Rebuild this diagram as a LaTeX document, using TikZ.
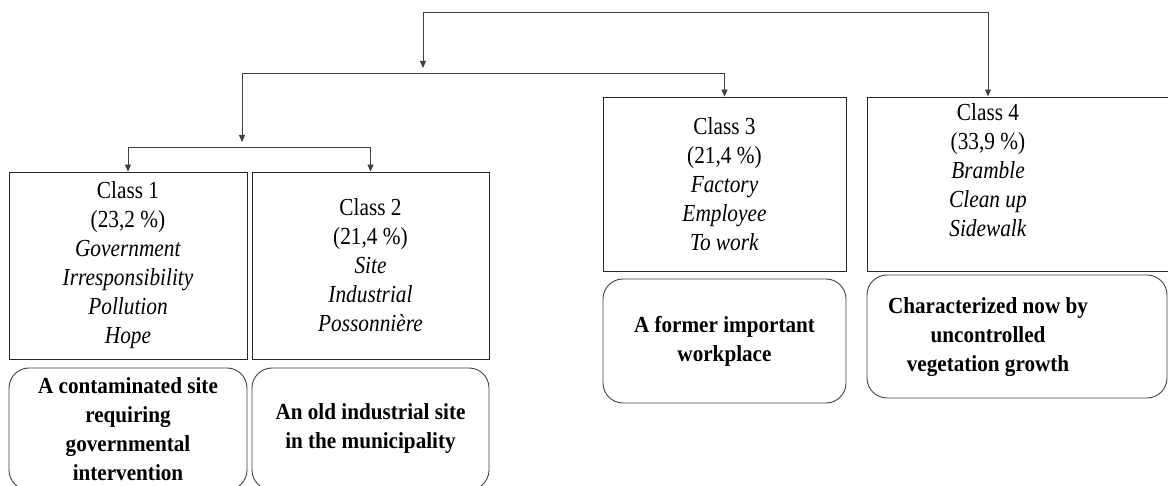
\documentclass[tikz,border=0pt]{standalone}
\usepackage{fontspec}
\setmainfont{Liberation Serif}
\newfontfamily\clsfont{Liberation Serif}[FakeStretch=0.87]
\newfontfamily\descfont{Liberation Serif}[FakeStretch=0.92]
\usetikzlibrary{arrows.meta}
\begin{document}
\begin{tikzpicture}[x=1pt,y=-1pt,
  txt/.style={inner sep=0pt, align=center, font=\clsfont\fontsize{24.5}{29}\selectfont},
  cls/.style={txt, draw=black!85, line width=0.9pt},
  desctxt/.style={inner sep=0pt, align=center, font=\descfont\fontsize{23}{29}\selectfont\bfseries},
  desc/.style={desctxt, draw=black!75, line width=0.9pt, rounded corners=20pt},
  conn/.style={draw=black!75, line width=0.9pt},
  arr/.style={conn, -{Triangle[length=7pt,width=6pt]}}]
\useasboundingbox (0,0) rectangle (1168,486);
% class boxes
\node[cls, minimum width=238pt, minimum height=187pt] (c1) at (128,265.5)
  {Class 1\\(23,2 \%)\\\textit{Government}\\\textit{Irresponsibility}\\\textit{Pollution}\\\textit{Hope}};
\node[cls, minimum width=237pt, minimum height=187pt] (c2) at (370.5,265.5)
  {Class 2\\(21,4 \%)\\\textit{Site}\\\textit{Industrial}\\\textit{Possonnière}};
\node[cls, minimum width=243pt, minimum height=174pt] (c3) at (724.5,184)
  {Class 3\\(21,4 \%)\\\textit{Factory}\\\textit{Employee}\\\textit{To work}};
\node[cls, minimum width=323pt, minimum height=174pt] (c4) at (1028.5,184) {};
\node[txt, anchor=north] (c4t) at (988,103)
  {Class 4\\(33,9 \%)\\\textit{Bramble}\\\textit{Clean up}\\\textit{Sidewalk}};
% description boxes
\node[desc, minimum width=238pt, minimum height=122pt] (d1) at (128,429)
  {A contaminated site\\requiring\\governmental\\intervention};
\node[desc, minimum width=237pt, minimum height=122pt] (d2) at (370.5,429)
  {An old industrial site\\in the municipality};
\node[desc, minimum width=243pt, minimum height=124pt] (d3) at (724.5,341)
  {A former important\\workplace};
\node[desc, minimum width=300pt, minimum height=123pt] (d4) at (1017,336.5) {};
\node[desctxt] (d4t) at (988,337)
  {Characterized now by\\uncontrolled\\vegetation growth};
% connectors
\coordinate (t1) at (423,12);
\coordinate (t2) at (988,12);
\coordinate (j1) at (423,68);
\coordinate (l2) at (242,73);
\coordinate (j2) at (242,142);
\coordinate (l3) at (128,147);
\draw[arr] (t1) -- (t2) -- (t2 |- c4.north);
\draw[arr] (t1) -- (j1);
\draw[arr] (l2) -| (c3.north);
\draw[arr] (l2) -- (j2);
\draw[arr] (l3) -| (c2.north);
\draw[arr] (l3) -- (c1.north);
\end{tikzpicture}
\end{document}
